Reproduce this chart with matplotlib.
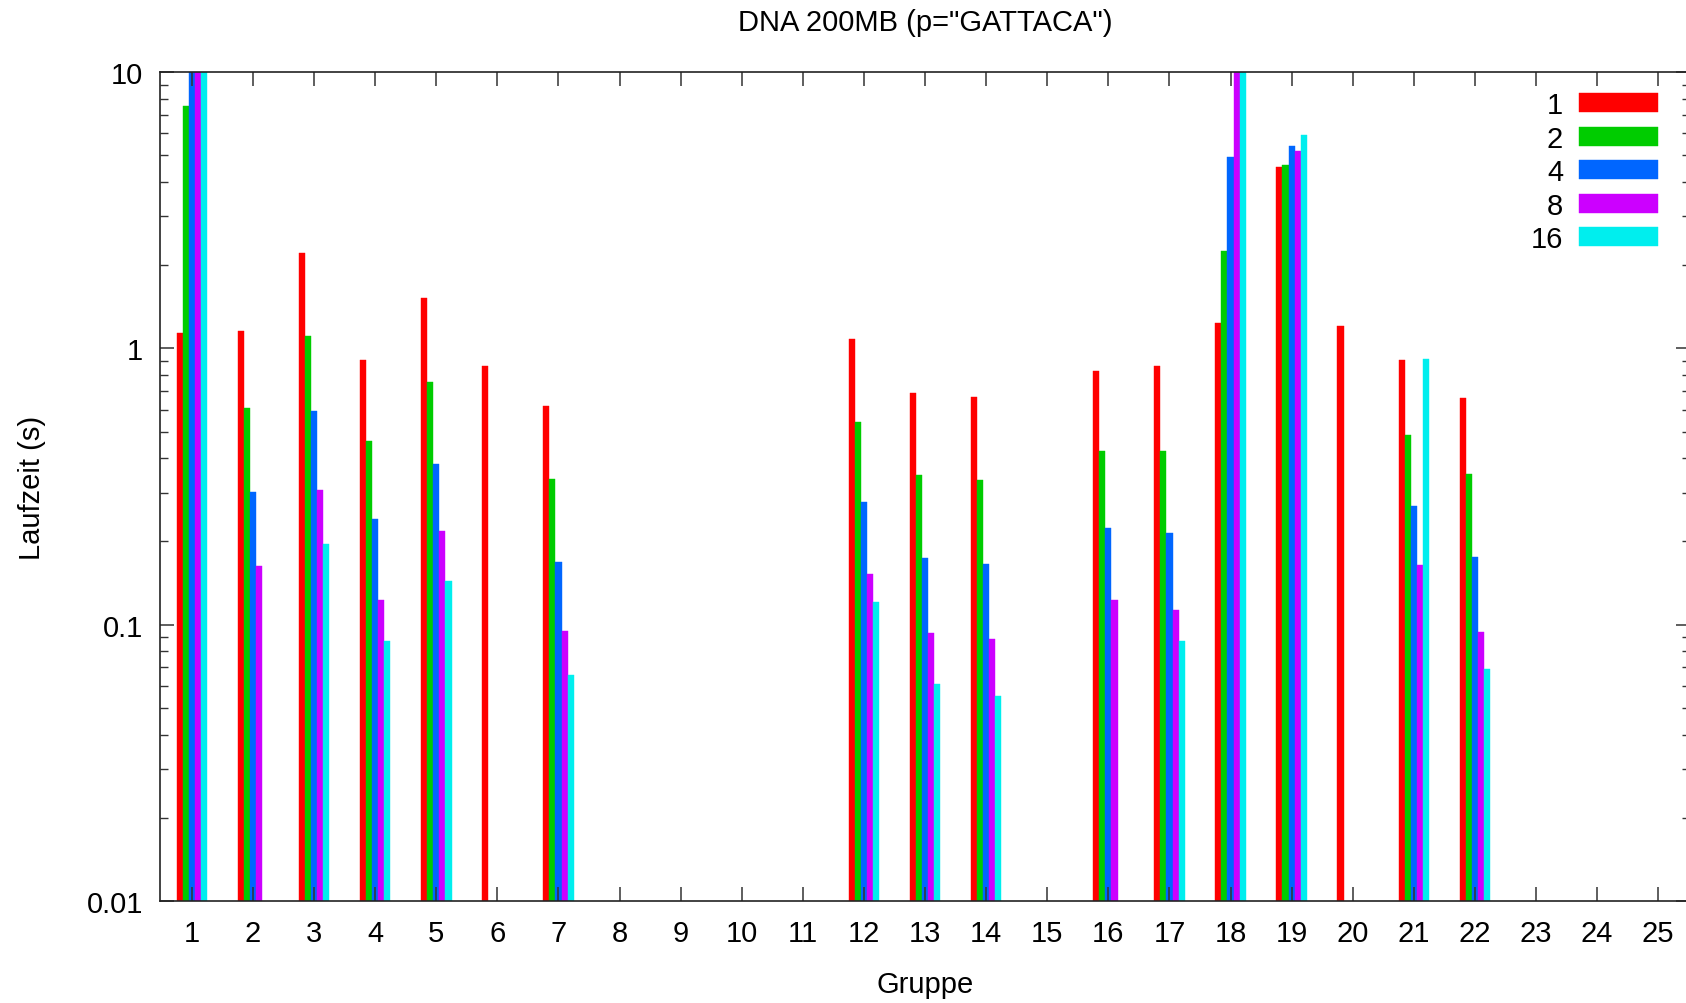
import numpy as np
import matplotlib
matplotlib.use('Agg')
import matplotlib.pyplot as plt
from matplotlib.ticker import LogLocator, FixedLocator, NullFormatter

plt.rcParams['font.family'] = ['Liberation Sans', 'DejaVu Sans']

nan = np.nan

GROUPS = list(range(1, 26))
THREADS = ['1', '2', '4', '8', '16']
COLORS = ['#ff0000', '#00cc00', '#0066ff', '#cc00ff', '#00eeee']

# runtime in seconds per group, one list per thread count (nan = no result)
# values above 10 run past the top of the plot
T1 = [1.14, 1.15, 2.21, 0.91, 1.52, 0.86, 0.62, nan, nan, nan, nan, 1.08, 0.69,
      0.666, nan, 0.83, 0.86, 1.235, 4.52, 1.20, 0.905, 0.66, nan, nan, nan]
T2 = [7.55, 0.605, 1.108, 0.461, 0.757, nan, 0.335, nan, nan, nan, nan, 0.542, 0.346,
      0.334, nan, 0.423, 0.425, 2.25, 4.62, nan, 0.483, 0.349, nan, nan, nan]
T4 = [12.0, 0.302, 0.594, 0.241, 0.381, nan, 0.168, nan, nan, nan, nan, 0.276, 0.174,
      0.165, nan, 0.222, 0.213, 4.91, 5.41, nan, 0.267, 0.175, nan, nan, nan]
T8 = [13.0, 0.162, 0.306, 0.122, 0.218, nan, 0.094, nan, nan, nan, nan, 0.151, 0.092,
      0.088, nan, 0.122, 0.112, 13.0, 5.16, nan, 0.164, 0.093, nan, nan, nan]
T16 = [14.0, nan, 0.195, 0.086, 0.143, nan, 0.065, nan, nan, nan, nan, 0.120, 0.060,
       0.054, nan, nan, 0.086, 14.0, 5.90, nan, 0.912, 0.068, nan, nan, nan]
SERIES = [T1, T2, T4, T8, T16]

BAR_W = 0.1
FS = 21

fig = plt.figure(figsize=(16.86, 10.04), dpi=100)
ax = fig.add_axes([160 / 1686, 1 - 902 / 1004, 1530 / 1686, 829 / 1004])

x = np.array(GROUPS, dtype=float)
for i, (vals, col, lab) in enumerate(zip(SERIES, COLORS, THREADS)):
    ax.bar(x + (i - 2) * BAR_W, vals, width=BAR_W, color=col, label=lab,
           edgecolor=col, linewidth=0.3, bottom=0.001)

ax.set_yscale('log')
ax.set_ylim(0.01, 10)
ax.set_xlim(0.478, 25.52)

ax.set_xticks(GROUPS)
ax.set_xticklabels([str(g) for g in GROUPS])
ax.yaxis.set_major_locator(FixedLocator([0.01, 0.1, 1, 10]))
ax.set_yticklabels(['0.01', '0.1', '1', '10'])
ax.yaxis.set_minor_locator(LogLocator(base=10, subs=np.arange(2, 10)))
ax.yaxis.set_minor_formatter(NullFormatter())

ax.tick_params(axis='both', which='major', direction='in', length=10, width=1.1,
               color='#333333', labelsize=FS, top=True, right=True)
ax.tick_params(axis='x', which='major', pad=13)
ax.tick_params(axis='y', which='major', pad=12)
ax.tick_params(axis='y', which='minor', direction='in', length=5.5, width=1,
               color='#333333', right=True)
ax.tick_params(axis='x', which='minor', bottom=False, top=False)

for s in ax.spines.values():
    s.set_linewidth(1.2)
    s.set_color('#222222')

ax.set_title('DNA 200MB (p="GATTACA")', fontsize=FS, pad=30)
ax.set_xlabel('Gruppe', fontsize=FS, va='center')
ax.xaxis.set_label_coords(0.5, -83 / 829)
ax.set_ylabel('Laufzeit (s)', fontsize=FS, va='center')
ax.yaxis.set_label_coords(-128 / 1530, 0.5)

ax.legend(loc='upper right', bbox_to_anchor=(1658 / 1686, 1 - 92 / 1004),
          bbox_transform=fig.transFigure, frameon=False, markerfirst=False,
          fontsize=FS, handlelength=2.7, handleheight=0.62, handletextpad=0.55,
          labelspacing=0.19, borderpad=0, borderaxespad=0)

fig.savefig('out.png', dpi=100)
